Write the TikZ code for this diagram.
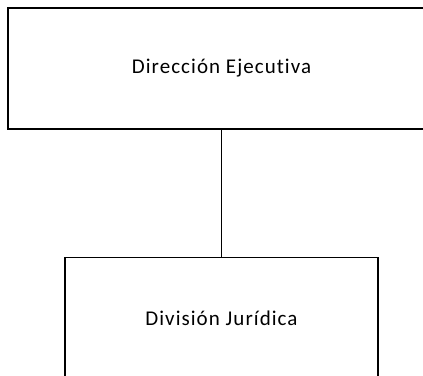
\documentclass[tikz,border=0pt]{standalone}
\usepackage{fontspec}
\setmainfont{Carlito}[LetterSpace=5,Ligatures={NoCommon}]
\begin{document}
\begin{tikzpicture}[x=1pt,y=1pt,
  unitbox/.style={draw=black,line width=1.6pt,inner sep=0pt,outer sep=0pt,
    font=\fontsize{21}{25}\selectfont,text=black}]
\useasboundingbox (0,0) rectangle (423,375);
\clip (0,0) rectangle (423,375);
\node[unitbox,minimum width=427,minimum height=121] (dir) at (221.5,306.5) {Dirección Ejecutiva};
\node[unitbox,minimum width=313,minimum height=121] (div) at (221.5,57) {División Jurídica};
\draw[line width=1.6pt] (dir.south) -- (div.north);
\end{tikzpicture}
\end{document}
